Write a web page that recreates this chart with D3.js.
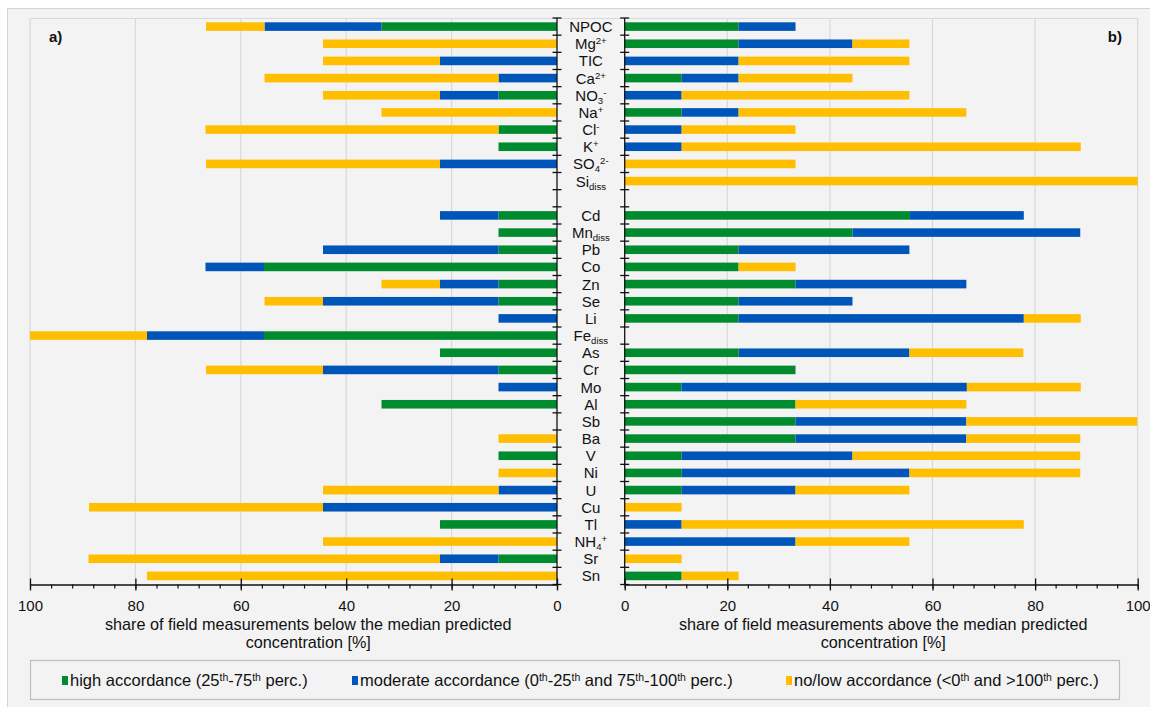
<!DOCTYPE html>
<html>
<head>
<meta charset="utf-8">
<script src="https://cdn.jsdelivr.net/npm/d3@7"></script>
<style>
  html, body { margin: 0; padding: 0; background: #ffffff; }
  svg { display: block; font-family: "Liberation Sans", Arial, sans-serif; }
</style>
</head>
<body>
<svg id="chart" width="1150" height="707"></svg>
<script>
// Parameters, in chart order (top to bottom); "gap" is an empty spacer row
const categories = ["NPOC","Mg","TIC","Ca","NO3","Na","Cl","K","SO4","Si","gap",
  "Cd","Mn","Pb","Co","Zn","Se","Li","Fe","As","Cr","Mo","Al","Sb","Ba","V","Ni","U","Cu","Tl","NH4","Sr","Sn"];

// Display labels: _{..} subscript, ^{..} superscript
const categoryLabels = ["NPOC","Mg^{2+}","TIC","Ca^{2+}","NO_{3}^{-}","Na^{+}","Cl^{-}","K^{+}","SO_{4}^{2-}","Si_{diss}","",
  "Cd","Mn_{diss}","Pb","Co","Zn","Se","Li","Fe_{diss}","As","Cr","Mo","Al","Sb","Ba","V","Ni","U","Cu","Tl","NH_{4}^{+}","Sr","Sn"];

// a) share of field measurements below the median predicted concentration [%]
const belowHigh     = [33.3,0,0,0,11.1,0,11.1,11.1,0,0,0, 11.1,11.1,11.1,55.6,11.1,11.1,0,55.6,22.2,11.1,0,33.3,0,0,11.1,0,0,0,22.2,0,11.1,0];
const belowModerate = [22.2,0,22.2,11.1,11.1,0,0,0,22.2,0,0, 11.1,0,33.3,11.1,11.1,33.3,11.1,22.2,0,33.3,11.1,0,0,0,0,0,11.1,44.4,0,0,11.1,0];
const belowNone     = [11.1,44.4,22.2,44.4,22.2,33.3,55.6,0,44.4,0,0, 0,0,0,0,11.1,11.1,0,22.2,0,22.2,0,0,0,11.1,0,11.1,33.3,44.4,0,44.4,66.7,77.8];

// b) share of field measurements above the median predicted concentration [%]
const aboveHigh     = [22.2,22.2,0,11.1,0,11.1,0,0,0,0,0, 55.6,44.4,22.2,22.2,33.3,22.2,22.2,0,22.2,33.3,11.1,33.3,33.3,33.3,11.1,11.1,11.1,0,0,0,0,11.1];
const aboveModerate = [11.1,22.2,22.2,11.1,11.1,11.1,11.1,11.1,0,0,0, 22.2,44.4,33.3,0,33.3,22.2,55.6,0,33.3,0,55.6,0,33.3,33.3,33.3,44.4,22.2,0,11.1,33.3,0,0];
const aboveNone     = [0,11.1,33.3,22.2,44.4,44.4,22.2,77.8,33.3,100,0, 0,0,0,11.1,0,0,11.1,0,22.2,0,22.2,33.3,33.3,22.2,44.4,33.3,22.2,11.1,66.7,22.2,11.1,11.1];

const axisTicks = [0, 20, 40, 60, 80, 100];
const minorTicks = d3.range(0, 101, 4);

const seriesNames = [
  ["high accordance (", "25", "th", "-", "75", "th", " perc.)"],
  ["moderate accordance (", "0", "th", "-25", "th", " and 75", "th", "-100", "th", " perc.)"],
  ["no/low accordance (<0", "th", " and >100", "th", " perc.)"]
];
const seriesColors = ["#008c2e", "#0055b8", "#ffbf00"];

const svg = d3.select("#chart");
const bg = "#f3f3f3", grid = "#d9d9d9", ink = "#111";

// figure background
svg.append("rect").attr("x", 7.5).attr("y", 8.5).attr("width", 1160).attr("height", 720)
  .attr("fill", bg).attr("stroke", "#d4d4d4");

const plotTop = 18, plotBottom = 584.5;
const y = d3.scaleBand().domain(categories).range([plotTop, plotBottom]).padding(0);
const xL = d3.scaleLinear().domain([0, 100]).range([557, 30]);
const xR = d3.scaleLinear().domain([0, 100]).range([624.7, 1137.7]);
const barH = y.bandwidth() * 0.5;

// gridlines and plot frame
[xL, xR].forEach(x => {
  svg.append("g").selectAll("line").data(axisTicks.filter(t => t > 0)).join("line")
    .attr("x1", d => x(d)).attr("x2", d => x(d)).attr("y1", plotTop).attr("y2", plotBottom)
    .attr("stroke", grid).attr("stroke-width", 1.2);
});
svg.append("line").attr("x1", xL(100)).attr("x2", xR(100)).attr("y1", plotTop + 0.5).attr("y2", plotTop + 0.5)
  .attr("stroke", grid).attr("stroke-width", 1.2);

// stacked bars
function drawStack(x, series) {
  const g = svg.append("g");
  categories.forEach((c, i) => {
    let acc = 0;
    series.forEach((vals, s) => {
      const v = vals[i];
      if (v > 0) {
        g.append("rect")
          .attr("x", Math.min(x(acc), x(acc + v)))
          .attr("width", Math.abs(x(acc + v) - x(acc)))
          .attr("y", y(c) + (y.bandwidth() - barH) / 2)
          .attr("height", barH)
          .attr("fill", seriesColors[s]);
      }
      acc += v;
    });
  });
}
drawStack(xL, [belowHigh, belowModerate, belowNone]);
drawStack(xR, [aboveHigh, aboveModerate, aboveNone]);

// vertical category axes with ticks at band boundaries
const boundaries = categories.map(c => y(c)).concat([y(categories[categories.length - 1]) + y.bandwidth()]);
[xL(0), xR(0)].forEach(px => {
  const g = svg.append("g").attr("stroke", ink).attr("stroke-width", 1.3);
  g.append("line").attr("x1", px).attr("x2", px).attr("y1", plotTop).attr("y2", plotBottom);
  g.selectAll("line.t").data(boundaries).join("line").attr("class", "t")
    .attr("x1", px - 4.5).attr("x2", px + 4.5).attr("y1", d => d).attr("y2", d => d);
});

// horizontal value axes
[xL, xR].forEach(x => {
  const minor = svg.append("g").attr("transform", `translate(0,${plotBottom})`)
    .call(d3.axisBottom(x).tickValues(minorTicks).tickSize(4).tickFormat(""));
  minor.select(".domain").remove();
  minor.selectAll("line").attr("stroke", ink).attr("stroke-width", 1.2);

  const major = svg.append("g").attr("transform", `translate(0,${plotBottom})`)
    .call(d3.axisBottom(x).tickValues(axisTicks).tickSize(6).tickSizeOuter(0).tickPadding(10));
  major.select(".domain").attr("stroke", ink).attr("stroke-width", 1.3);
  major.selectAll(".tick line").attr("y1", -6).attr("y2", 6).attr("stroke", ink).attr("stroke-width", 1.3);
  major.selectAll(".tick text").attr("font-size", 15).attr("fill", ink)
    .attr("font-family", "Liberation Sans, Arial, sans-serif");
});

// category labels with sub/superscripts
function richText(sel, markup, size) {
  const parts = markup.match(/(_\{[^}]*\}|\^\{[^}]*\}|[^_^]+)/g) || [];
  let shift = 0;
  parts.forEach(p => {
    if (p.startsWith("_{")) {
      sel.append("tspan").attr("font-size", size * 0.64).attr("dy", 3 - shift).text(p.slice(2, -1));
      shift = 3;
    } else if (p.startsWith("^{")) {
      sel.append("tspan").attr("font-size", size * 0.64).attr("dy", -5 - shift).text(p.slice(2, -1));
      shift = -5;
    } else {
      sel.append("tspan").attr("dy", -shift).text(p);
      shift = 0;
    }
  });
}
const labelX = (xL(0) + xR(0)) / 2;
categories.forEach((c, i) => {
  const t = svg.append("text").attr("x", labelX).attr("y", y(c) + y.bandwidth() / 2 + 5.5)
    .attr("text-anchor", "middle").attr("font-size", 15).attr("fill", ink);
  richText(t, categoryLabels[i], 15);
});

// panel tags
svg.append("text").attr("x", 49).attr("y", 42).attr("font-weight", "bold").attr("font-size", 15).attr("fill", ink).text("a)");
svg.append("text").attr("x", 1122).attr("y", 42).attr("text-anchor", "end").attr("font-weight", "bold").attr("font-size", 15).attr("fill", ink).text("b)");

// axis titles (left one sits slightly right of its panel centre)
const titles = [
  [xL(47.2), ["share of field measurements below the median predicted", "concentration [%]"]],
  [xR(50.4), ["share of field measurements above the median predicted", "concentration [%]"]]
];
titles.forEach(([cx, lines]) => {
  lines.forEach((l, k) => {
    svg.append("text").attr("x", cx).attr("y", 630 + k * 18).attr("text-anchor", "middle")
      .attr("font-size", 16.2).attr("fill", ink).text(l);
  });
});

// legend
svg.append("rect").attr("x", 30.5).attr("y", 660.5).attr("width", 1089).attr("height", 39)
  .attr("fill", bg).attr("stroke", "#bdbdbd").attr("stroke-width", 1.2);
const legendX = [62, 352, 786];
seriesNames.forEach((parts, s) => {
  svg.append("rect").attr("x", legendX[s]).attr("y", 676).attr("width", 6).attr("height", 9).attr("fill", seriesColors[s]);
  const t = svg.append("text").attr("x", legendX[s] + 8).attr("y", 686).attr("font-size", 16.5).attr("fill", ink);
  let raised = false;
  parts.forEach(p => {
    if (p === "th") {
      t.append("tspan").attr("font-size", 10.5).attr("dy", -5).text(p);
      raised = true;
    } else {
      const ts = t.append("tspan").text(p);
      if (raised) { ts.attr("dy", 5); raised = false; }
    }
  });
});
</script>
</body>
</html>
